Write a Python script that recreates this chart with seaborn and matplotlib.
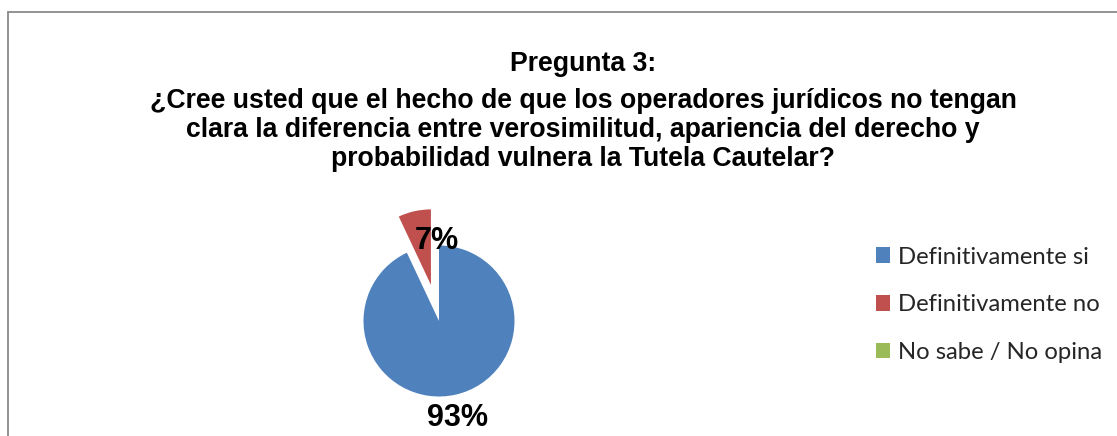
import matplotlib
matplotlib.use("Agg")
import matplotlib.pyplot as plt
import seaborn as sns
from matplotlib.patches import Patch
from matplotlib.lines import Line2D

# ---- data ----
categories = ["Definitivamente si", "Definitivamente no", "No sabe / No opina"]
values = [93, 7, 0]
title_lines = [
    "Pregunta 3:",
    "¿Cree usted que el hecho de que los operadores jurídicos no tengan",
    "clara la diferencia entre verosimilitud, apariencia del derecho y",
    "probabilidad vulnera la Tutela Cautelar?",
]

# ---- style ----
colors = ["#4F81BD", "#C0504D", "#9BBB59"]
explode = [0.0, 0.49, 0.0]
label_pos = [(0.25, -1.29), (-0.035, 1.06), (0.0, 0.0)]

sns.set_theme(style="white")
plt.rcParams["font.family"] = ["Liberation Sans", "DejaVu Sans"]

W, H = 1117, 436
fig = plt.figure(figsize=(W / 100, H / 100), dpi=100)
fig.patch.set_facecolor("white")

# border (chart area)
fig.add_artist(Line2D([7.5 / W, 1.0], [1 - 12.5 / H, 1 - 12.5 / H], color="#8a8a8a", lw=1.3))
fig.add_artist(Line2D([7.5 / W, 7.5 / W], [0.0, 1 - 12.5 / H], color="#8a8a8a", lw=1.3))

# title
title_base = [71, 108, 137, 166]
for line, y in zip(title_lines, title_base):
    fig.text(583 / W, 1 - y / H, line, ha="center", va="baseline",
             fontsize=19.2, fontweight="bold", color="black")

# pie
cx, cy, R = 439, H - 321, 75.5
L = 1.7
half = R * L
ax = fig.add_axes([(cx - half) / W, (cy - half) / H, 2 * half / W, 2 * half / H])
wedges, texts, autotexts = ax.pie(
    values, colors=colors, startangle=90, counterclock=False,
    explode=explode, radius=1.0,
    autopct=lambda p: f"{p:.0f}%" if p > 0 else "",
    textprops=dict(fontsize=22, fontweight="bold", color="black"),
    wedgeprops=dict(linewidth=0),
)
for t, pos in zip(autotexts, label_pos):
    t.set_position(pos)
    t.set_ha("center")
    t.set_va("center")
    t.set_clip_on(False)
ax.set_xlim(-L, L)
ax.set_ylim(-L, L)
ax.set_aspect("equal")
ax.axis("off")

# legend
handles = [Patch(facecolor=c, edgecolor="none") for c in colors]
leg = fig.legend(handles, categories, loc="upper left",
                 bbox_to_anchor=(866 / W, 1 - 237 / H),
                 frameon=False,
                 prop=dict(family=["Lato", "DejaVu Sans"], size=17.2),
                 handlelength=0.62, handleheight=0.62, handletextpad=0.3,
                 labelspacing=1.12, borderaxespad=0)

fig.savefig("out.png", dpi=100, facecolor="white")
